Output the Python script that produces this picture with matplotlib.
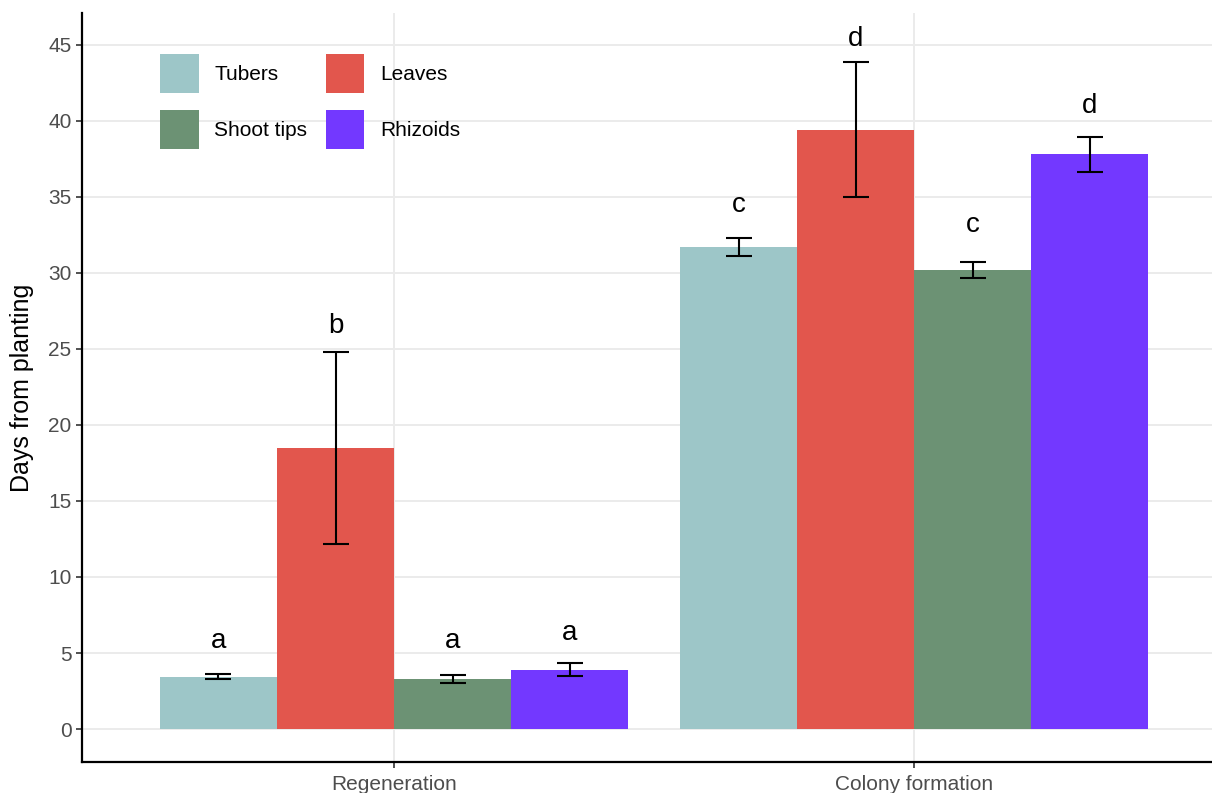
import matplotlib
matplotlib.use('Agg')
import matplotlib.pyplot as plt
import numpy as np

plt.rcParams['font.family'] = ['Liberation Sans', 'DejaVu Sans']

stages = ['Regeneration', 'Colony formation']
explants = ['Tubers', 'Leaves', 'Shoot tips', 'Rhizoids']
colours = ['#9DC6C8', '#E2564D', '#6C9274', '#7338FF']

# mean days and standard error, one row per explant (Regeneration, Colony formation)
means = [[3.44, 31.73],
         [18.49, 39.42],
         [3.29, 30.17],
         [3.9, 37.8]]
errors = [[0.17, 0.59],
          [6.3, 4.44],
          [0.28, 0.53],
          [0.42, 1.15]]
# significance letters and the height of their baseline
letters = [['a', 'c'], ['b', 'd'], ['a', 'c'], ['a', 'd']]
letter_y = [[5.33, 34.0], [26.05, 44.95], [5.3, 32.7], [5.86, 40.5]]

fig = plt.figure(figsize=(12.12, 7.93), dpi=100)
ax = fig.add_axes([82 / 1212, 31 / 793, 1 - 82 / 1212, (762 - 13) / 793])

x = np.arange(1, len(stages) + 1)
width = 0.225
offsets = (np.arange(len(explants)) - 1.5) * width

ax.set_axisbelow(True)
for i, name in enumerate(explants):
    xs = x + offsets[i]
    ax.bar(xs, means[i], width=width, color=colours[i], label=name, zorder=2)
    ax.errorbar(xs, means[i], yerr=errors[i], fmt='none', ecolor='black',
                elinewidth=1.5, capsize=9.5, capthick=1.5, zorder=3)
    for j in range(len(stages)):
        ax.text(xs[j], letter_y[i][j], letters[i][j], ha='center', va='baseline',
                fontsize=20, color='black', zorder=4)

ax.set_xlim(0.4, 0.4 + (1212 - 82) / 520)
ax.set_ylim(-2.17, 47.1)
ax.set_yticks(np.arange(0, 46, 5))
ax.set_xticks(x)
ax.set_xticklabels(stages)
ax.set_ylabel('Days from planting', fontsize=18, labelpad=10)

ax.grid(True, color='#EBEBEB', linewidth=1.4)
for side in ['top', 'right']:
    ax.spines[side].set_visible(False)
for side in ['left', 'bottom']:
    ax.spines[side].set_linewidth(1.6)
    ax.spines[side].set_color('black')
ax.tick_params(axis='both', labelsize=15, labelcolor='#4D4D4D', color='#333333',
               length=4.5, width=1.2, pad=3)
ax.tick_params(axis='x', pad=5)

handles, labels = ax.get_legend_handles_labels()
order = [0, 2, 1, 3]
ax.legend([handles[k] for k in order], [labels[k] for k in order], ncol=2,
          loc='upper left', bbox_to_anchor=(160 / 1212, 1 - 54 / 793),
          bbox_transform=fig.transFigure, frameon=False, fontsize=15,
          handlelength=1.85, handleheight=2.5, handletextpad=0.75,
          labelspacing=0.83, columnspacing=0.9, borderpad=0, borderaxespad=0)

fig.savefig('out.png', dpi=100)
